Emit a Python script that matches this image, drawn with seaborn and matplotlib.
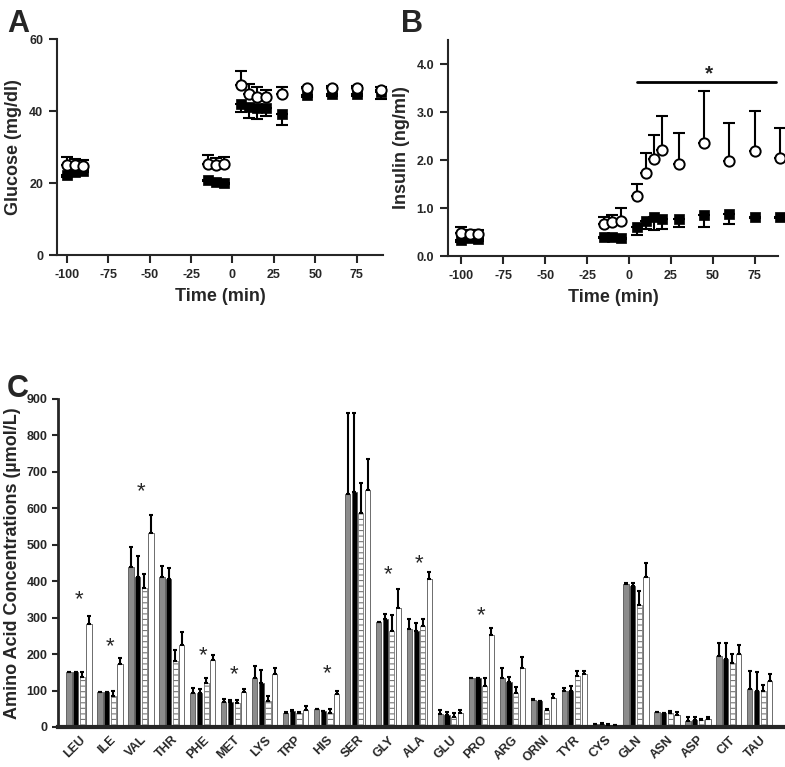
import numpy as np
import pandas as pd
import matplotlib
matplotlib.use('Agg')
import matplotlib.pyplot as plt
import seaborn as sns

# ---- data: panels A and B (time course) ----
time = [-100, -95, -90, -15, -10, -5, 5, 10, 15, 20, 30, 45, 60, 75, 90]

glu_open = [25.0, 25.0, 24.8, 25.2, 25.0, 25.2, 47.1, 44.7, 44.0, 43.8, 44.7, 46.4, 46.5, 46.5, 45.9]
glu_open_sem = [2.1, 1.6, 1.6, 2.5, 2.0, 2.1, 4.1, 2.8, 2.6, 2.1, 1.9, 0.4, 0.4, 0.4, 0.7]
glu_sq = [22.2, 23.0, 23.4, 20.9, 20.4, 20.1, 42.0, 41.1, 40.8, 40.8, 39.1, 44.5, 44.7, 44.7, 45.4]
glu_sq_sem = [0.4, 0.4, 0.4, 0.3, 0.3, 0.3, 2.4, 3.1, 3.1, 2.3, 3.1, 0.5, 0.4, 0.4, 2.1]

ins_open = [0.48, 0.45, 0.46, 0.67, 0.71, 0.74, 1.26, 1.73, 2.02, 2.20, 1.91, 2.36, 1.98, 2.18, 2.04]
ins_open_sem = [0.13, 0.10, 0.09, 0.15, 0.14, 0.26, 0.24, 0.42, 0.50, 0.71, 0.65, 1.07, 0.79, 0.85, 0.62]
ins_sq = [0.33, 0.38, 0.36, 0.40, 0.40, 0.38, 0.60, 0.74, 0.82, 0.78, 0.78, 0.86, 0.88, 0.82, 0.82]
ins_sq_sem = [0.04, 0.04, 0.04, 0.03, 0.03, 0.03, 0.16, 0.17, 0.27, 0.22, 0.18, 0.25, 0.22, 0.03, 0.03]

# ---- data: panel C (amino acids, 4 groups) ----
amino = ['LEU', 'ILE', 'VAL', 'THR', 'PHE', 'MET', 'LYS', 'TRP', 'HIS', 'SER', 'GLY', 'ALA',
         'GLU', 'PRO', 'ARG', 'ORNI', 'TYR', 'CYS', 'GLN', 'ASN', 'ASP', 'CIT', 'TAU']
groups = ['G1', 'G2', 'G3', 'G4']
g1 = [150, 95, 440, 412, 92, 68, 133, 39, 48, 640, 288, 268, 35, 133, 134, 75, 99, 8, 393, 41, 16, 194, 105]
g1_sem = [2, 2, 53, 31, 16, 10, 34, 2, 1, 222, 1, 27, 11, 2, 29, 2, 8, 1, 3, 1, 10, 37, 49]
g2 = [150, 95, 412, 405, 93, 68, 121, 44, 44, 645, 295, 263, 32, 133, 123, 71, 98, 9, 386, 38, 18, 187, 99]
g2_sem = [1, 2, 58, 32, 10, 7, 34, 2, 1, 217, 14, 21, 10, 1, 14, 1, 15, 1, 10, 1, 8, 44, 52]
g3 = [137, 85, 382, 180, 122, 65, 71, 38, 38, 586, 263, 277, 27, 112, 93, 46, 140, 6, 336, 37, 20, 176, 98]
g3_sem = [13, 13, 38, 30, 13, 10, 14, 3, 10, 83, 44, 18, 10, 23, 17, 4, 14, 1, 37, 7, 3, 23, 18]
g4 = [282, 173, 533, 225, 185, 97, 144, 46, 91, 649, 327, 405, 38, 252, 162, 80, 146, 5, 412, 34, 21, 199, 126]
g4_sem = [23, 15, 50, 35, 13, 8, 19, 12, 9, 87, 51, 20, 8, 19, 30, 11, 7, 1, 39, 7, 5, 27, 20]
star_aa = ['LEU', 'ILE', 'VAL', 'PHE', 'MET', 'HIS', 'GLY', 'ALA', 'PRO']
star_y = [348, 221, 647, 195, 143, 145, 417, 448, 305]

df_c = pd.DataFrame({
    'aa': amino * 4,
    'group': np.repeat(groups, len(amino)),
    'value': g1 + g2 + g3 + g4,
})
sems = [g1_sem, g2_sem, g3_sem, g4_sem]

sns.set_theme(style='ticks')
plt.rcParams['font.family'] = ['Liberation Sans', 'DejaVu Sans']
plt.rcParams['font.weight'] = 'bold'
plt.rcParams['axes.labelweight'] = 'bold'
plt.rcParams['axes.unicode_minus'] = False
plt.rcParams['hatch.linewidth'] = 0.8

fig = plt.figure(figsize=(7.85, 7.67), dpi=100)
axA = fig.add_axes([0.0726, 0.6675, 0.4153, 0.2816])
axB = fig.add_axes([0.5707, 0.6662, 0.4204, 0.2816])
axC = fig.add_axes([0.0739, 0.0522, 0.9236, 0.4276])


def time_panel(ax, y_open, e_open, y_sq, e_sq):
    zeros = [0] * len(time)
    for eb in (ax.errorbar(time, y_open, yerr=[zeros, e_open], fmt='none', ecolor='black',
                           elinewidth=1.5, capsize=4, capthick=1.5, zorder=2),
               ax.errorbar(time, y_sq, yerr=[e_sq, zeros], fmt='none', ecolor='black',
                           elinewidth=1.5, capsize=4, capthick=1.5, zorder=2)):
        for art in eb.lines[1] + eb.lines[2]:
            art.set_clip_on(False)
    sns.scatterplot(x=time, y=y_sq, marker='s', s=58, color='black', edgecolor='black',
                    linewidth=0.5, ax=ax, zorder=3, clip_on=False)
    sns.scatterplot(x=time, y=y_open, marker='o', s=55, facecolor='white', edgecolor='black',
                    linewidth=1.4, ax=ax, zorder=4, clip_on=False)
    ax.set_xticks([-100, -75, -50, -25, 0, 25, 50, 75])
    ax.set_xlabel('Time (min)', fontsize=13, labelpad=5)
    ax.tick_params(labelsize=9, width=1.5, length=6, pad=4)
    for s in ['left', 'bottom']:
        ax.spines[s].set_linewidth(1.5)
    sns.despine(ax=ax)


# --- A: glucose ---
time_panel(axA, glu_open, glu_open_sem, glu_sq, glu_sq_sem)
axA.set_xlim(-106, 91)
axA.set_ylim(0, 60)
axA.set_yticks([0, 20, 40, 60])
axA.set_ylabel('Glucose (mg/dl)', fontsize=13, labelpad=5)

# --- B: insulin ---
time_panel(axB, ins_open, ins_open_sem, ins_sq, ins_sq_sem)
axB.set_xlim(-108, 89)
axB.set_ylim(0, 4.5)
axB.set_yticks([0, 1, 2, 3, 4])
axB.set_yticklabels(['0.0', '1.0', '2.0', '3.0', '4.0'])
axB.set_ylabel('Insulin (ng/ml)', fontsize=13, labelpad=5)
axB.plot([5, 88], [3.62, 3.62], color='black', lw=2, clip_on=False)
axB.text(48, 3.8, '*', fontsize=15, ha='center', va='center')

# --- C: amino acids ---
sns.barplot(data=df_c, x='aa', y='value', hue='group', order=amino, hue_order=groups,
            palette=['#8c8c8c', '#000000', '#ffffff', '#ffffff'], width=0.86, gap=0.22,
            errorbar=None, legend=False, edgecolor='#555555', linewidth=0.6, ax=axC)
bar_sets = list(axC.containers)
for k, cont in enumerate(bar_sets):
    xs = [p.get_x() + p.get_width() / 2 for p in cont]
    hs = [p.get_height() for p in cont]
    if k == 2:
        for p in cont:
            p.set_hatch('---')
            p.set_edgecolor('#777777')
    axC.errorbar(xs, hs, yerr=[[0] * len(hs), sems[k]], fmt='none', ecolor='black',
                 elinewidth=1.5, capsize=1.6, capthick=1.5, zorder=3)
for name, yv in zip(star_aa, star_y):
    axC.text(amino.index(name), yv, '*', fontsize=16, fontweight='normal', ha='center', va='center')

axC.set_xlim(-0.68, 22.75)
axC.set_ylim(0, 900)
axC.set_yticks(range(0, 901, 100))
axC.set_xlabel('')
axC.set_ylabel('Amino Acid Concentrations (\u00b5mol/L)', fontsize=13, labelpad=4)
axC.tick_params(axis='y', labelsize=9, width=1.5, length=4)
axC.tick_params(axis='x', labelsize=9, length=0, pad=5)
plt.setp(axC.get_xticklabels(), rotation=45, ha='right', rotation_mode='anchor')
axC.spines['left'].set_linewidth(2)
axC.spines['bottom'].set_linewidth(3)
sns.despine(ax=axC)

# panel letters
fig.text(0.009, 0.988, 'A', fontsize=22, fontweight='bold', va='top')
fig.text(0.511, 0.988, 'B', fontsize=22, fontweight='bold', va='top')
fig.text(0.009, 0.512, 'C', fontsize=22, fontweight='bold', va='top')

fig.savefig('out.png', dpi=100)
